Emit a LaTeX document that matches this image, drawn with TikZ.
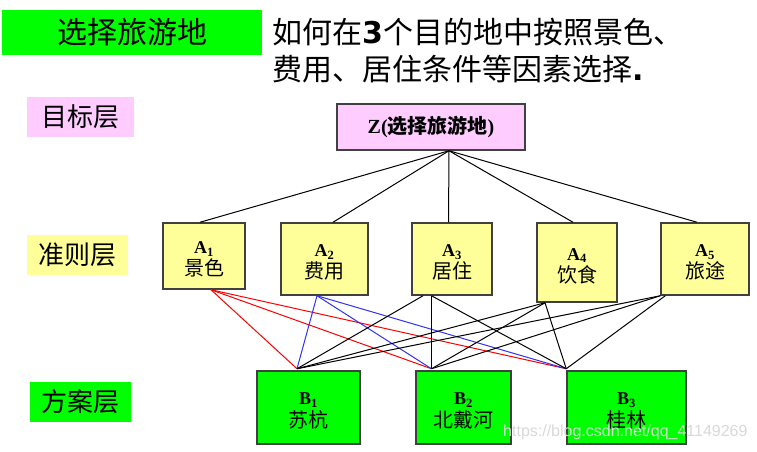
\documentclass[tikz,border=0pt]{standalone}
\usepackage{fontspec}
\setmainfont{Liberation Serif}
\newfontfamily\cjk{Noto Sans CJK SC}
\newfontfamily\vbold{DejaVu Sans}
\newfontfamily\arl{Liberation Sans}
\definecolor{grn}{RGB}{0,255,0}
\definecolor{pnk}{RGB}{255,204,255}
\definecolor{ylw}{RGB}{255,255,153}
\definecolor{bord}{RGB}{64,64,64}
\definecolor{blu}{RGB}{50,50,240}
\definecolor{rd}{RGB}{255,0,0}
\tikzset{
  lvl/.style={inner sep=0pt, font=\cjk\fontsize{26}{30}\selectfont},
  nodebox/.style={draw=bord, line width=1.5pt, inner sep=0pt, align=center},
  abox/.style={nodebox, fill=ylw, font=\fontsize{20}{22}\selectfont},
  bbox/.style={nodebox, fill=grn, font=\fontsize{20}{23}\selectfont},
  con/.style={line width=1pt, black},
  redcon/.style={line width=1pt, rd},
  bluecon/.style={line width=1pt, blu}
}
\newcommand{\lab}[2]{\rule{0pt}{19.5pt}{\fontsize{18}{22}\selectfont\bfseries #1\textsubscript{#2}}}
\begin{document}
\begin{tikzpicture}[x=1pt,y=-1pt]
\useasboundingbox[fill=white] (0,0) rectangle (757,451);

% title and question
\node[lvl, fill=grn, minimum width=260pt, minimum height=45pt, font=\cjk\fontsize{30}{34}\selectfont] (title) at (132,32.5) {选择旅游地};
\node[inner sep=0pt, anchor=base west, font=\fontsize{30}{34}\selectfont] (q1) at (272,43)
  {{\cjk 如何在}{\vbold\bfseries 3}{\cjk 个目的地中按照景色、}};
\node[inner sep=0pt, anchor=base west, font=\fontsize{30}{34}\selectfont] (q2) at (272,80)
  {{\cjk 费用、居住条件等因素选择}{\vbold\bfseries .}};

% level labels
\node[lvl, fill=pnk, minimum width=107pt, minimum height=40pt] (L1) at (80.5,117) {目标层};
\node[lvl, fill=ylw, minimum width=101pt, minimum height=40pt] (L2) at (77.5,255) {准则层};
\node[lvl, fill=grn, minimum width=101pt, minimum height=40pt] (L3) at (80.5,402) {方案层};

% goal
\node[nodebox, fill=pnk, minimum width=188pt, minimum height=46pt, font=\fontsize{20}{23}\selectfont] (Z) at (431,127)
  {{\bfseries Z(}{\cjk\bfseries 选择旅游地}{\bfseries )}};

% criteria
\node[abox, minimum width=82pt, minimum height=66pt] (A1) at (204,256) {\lab{A}{1}\\{\cjk 景色}};
\node[abox, minimum width=87pt, minimum height=72pt] (A2) at (324.5,259) {\lab{A}{2}\\{\cjk 费用}};
\node[abox, minimum width=80pt, minimum height=72pt] (A3) at (452,259) {\lab{A}{3}\\{\cjk 居住}};
\node[abox, minimum width=80pt, minimum height=79pt] (A4) at (577,262.5) {\lab{A}{4}\\{\cjk 饮食}};
\node[abox, minimum width=88pt, minimum height=72pt] (A5) at (705,259) {\lab{A}{5}\\{\cjk 旅途}};

% alternatives
\node[bbox, minimum width=103pt, minimum height=73pt] (B1) at (308.5,407.5) {\lab{B}{1}\\{\cjk 苏杭}};
\node[bbox, minimum width=95pt, minimum height=73pt] (B2) at (463.5,407.5) {\lab{B}{2}\\{\cjk 北戴河}};
\node[bbox, minimum width=119pt, minimum height=73pt] (B3) at (626.5,407.5) {\lab{B}{3}\\{\cjk 桂林}};

% goal -> criteria
\coordinate (zb) at ([xshift=18pt]Z.south);
\draw[con] (zb) -- ([xshift=-4pt]A1.north);
\draw[con] (zb) -- ([xshift=8.5pt]A2.north);
\draw[con] (zb) -- ([xshift=-3.5pt]A3.north);
\draw[con] (zb) -- ([xshift=-4pt]A4.north);
\draw[con] (zb) -- ([xshift=-8pt]A5.north);

% criteria -> alternatives
\coordinate (b1) at ([xshift=-11.5pt,yshift=1.5pt]B1.north);
\coordinate (b2) at ([xshift=-32pt,yshift=1.5pt]B2.north);
\coordinate (b3) at ([yshift=1.5pt]B3.north west);

\coordinate (a1) at ([xshift=7pt]A1.south);
\draw[redcon] (a1) -- (b1);
\draw[redcon] (a1) -- (b2);
\draw[redcon] (a1) -- (b3);

\coordinate (a2) at ([xshift=-7.5pt]A2.south);
\draw[bluecon] (a2) -- (b1);
\draw[bluecon] (a2) -- (b2);
\draw[bluecon] (a2) -- (b3);

\draw[con] ([xshift=-29pt]A3.south) -- (b1);
\draw[con] ([xshift=-20.5pt]A3.south) -- (b2);
\draw[con] ([xshift=-20.5pt]A3.south) -- (b3);

\coordinate (a4) at ([xshift=-32pt]A4.south);
\draw[con] (a4) -- (b1);
\draw[con] (a4) -- (b2);
\draw[con] (a4) -- (b3);

\draw[con] (A5.south west) -- (b1);
\draw[con] (A5.south west) -- (b2);
\draw[con] ([xshift=5pt]A5.south west) -- (b3);

% watermark
\node[inner sep=0pt, anchor=west, text=gray!30, font=\arl\fontsize{16}{16}\selectfont] (wm) at (503,432) {https://blog.csdn.net/qq\_41149269};
\end{tikzpicture}
\end{document}
